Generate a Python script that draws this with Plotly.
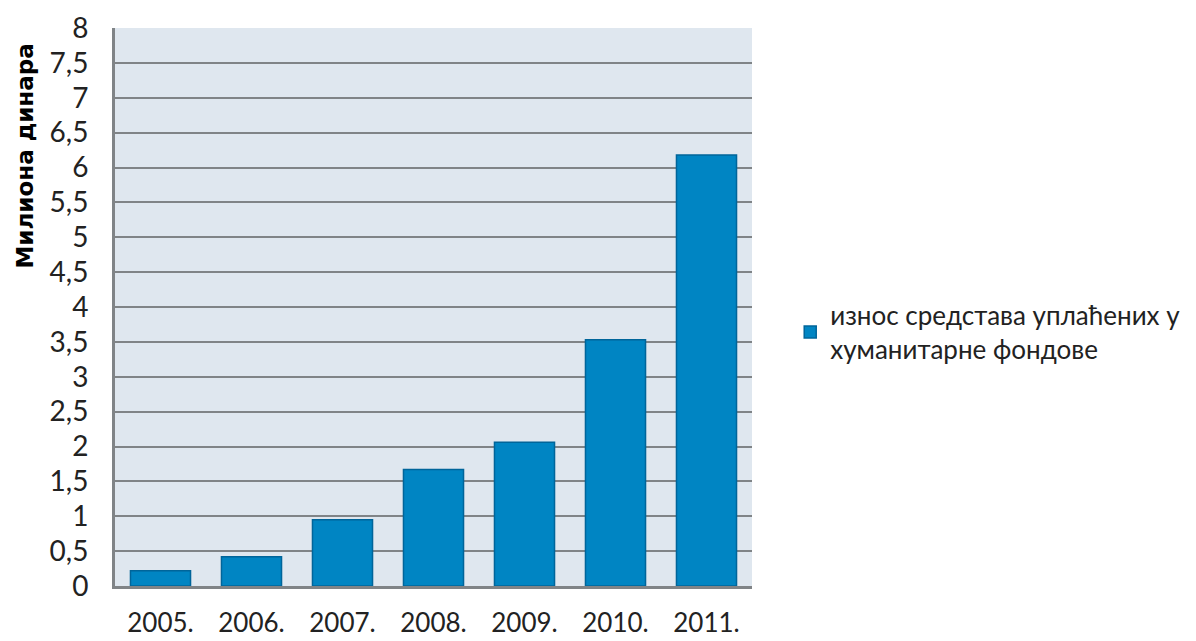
import plotly.graph_objects as go

# Years and amounts paid into humanitarian funds (millions of dinars)
years = ["2005.", "2006.", "2007.", "2008.", "2009.", "2010.", "2011."]
amounts = [0.22, 0.42, 0.95, 1.67, 2.06, 3.53, 6.18]
series_name = "износ средстава уплаћених у<br>хуманитарне фондове"
y_title = "Милиона динара"

y_ticks = [i * 0.5 for i in range(17)]
y_tick_text = [("%g" % v).replace(".", ",") for v in y_ticks]

FONT = "Lato, Open Sans, sans-serif"
GRID = "#808487"

fig = go.Figure(
    go.Bar(
        x=years,
        y=amounts,
        name=series_name,
        marker=dict(color="#0085C3", line=dict(color="#00659A", width=1.5)),
        showlegend=True,
    )
)

fig.update_layout(
    width=1196,
    height=641,
    margin=dict(l=115, r=444, t=28, b=55, autoexpand=False),
    paper_bgcolor="white",
    plot_bgcolor="#DFE7EF",
    bargap=0.34,
    font=dict(family=FONT, color="#222222", size=28),
    legend=dict(
        x=1.06,
        y=0.455,
        xanchor="left",
        yanchor="middle",
        font=dict(size=26, family=FONT),
        itemwidth=30,
        tracegroupgap=0,
    ),
    xaxis=dict(
        showline=True,
        linecolor=GRID,
        linewidth=3,
        ticks="",
        ticklabelstandoff=12,
        tickfont=dict(size=26),
    ),
    yaxis=dict(
        range=[0, 8],
        tickvals=y_ticks,
        ticktext=y_tick_text,
        showline=True,
        linecolor=GRID,
        linewidth=3,
        gridcolor=GRID,
        gridwidth=2,
        zeroline=False,
        ticks="",
        ticklabelstandoff=18,
        tickfont=dict(size=28),
    ),
    annotations=[
        dict(
            text="<b>" + y_title + "</b>",
            textangle=-90,
            xref="paper",
            yref="paper",
            x=-0.141,
            y=0.77,
            xanchor="center",
            yanchor="middle",
            showarrow=False,
            font=dict(size=23, family="DejaVu Sans, sans-serif", color="#000000"),
        )
    ],
)

fig.write_html("out.html")
